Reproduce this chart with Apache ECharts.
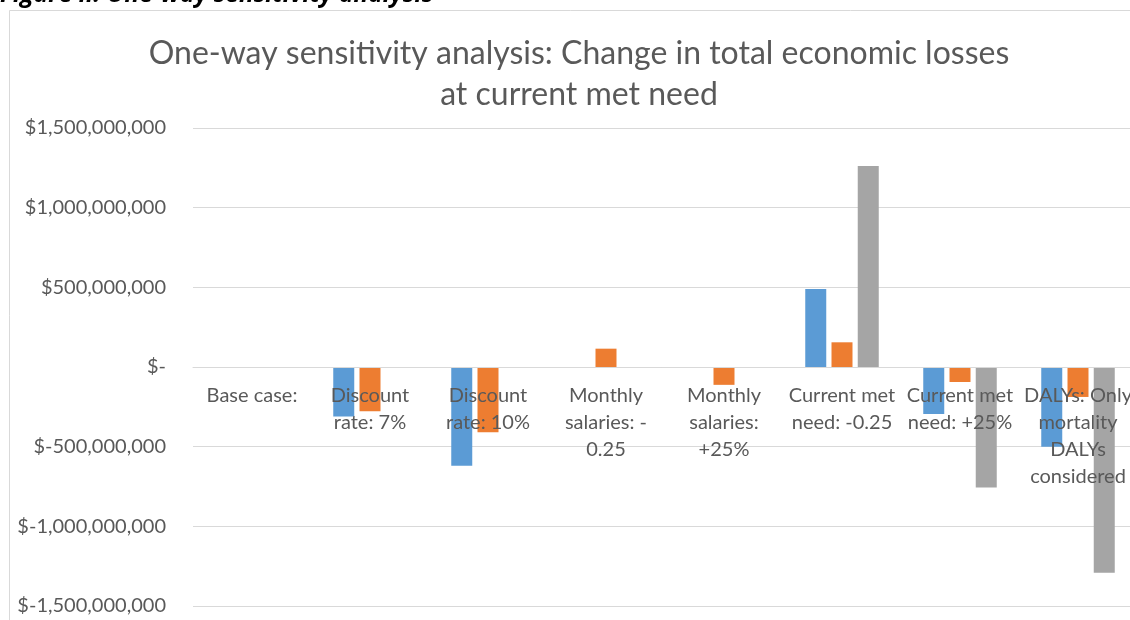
<!DOCTYPE html>
<html>
<head>
<meta charset="utf-8">
<script src="https://cdn.jsdelivr.net/npm/echarts@6/dist/echarts.min.js"></script>
<style>
  html, body { margin: 0; padding: 0; background: #ffffff; }
  #chart { width: 1130px; height: 620px; }
</style>
</head>
<body>
<div id="chart"></div>
<script>
// Scenario categories (line breaks as they wrap under the axis)
const categories = [
  'Base case:',
  'Discount\nrate: 7%',
  'Discount\nrate: 10%',
  'Monthly\nsalaries: -\n0.25',
  'Monthly\nsalaries:\n+25%',
  'Current met\nneed: -0.25',
  'Current met\nneed: +25%',
  'DALYs: Only\nmortality\nDALYs\nconsidered'
];

// Change in total economic losses (USD) per scenario
const series1 = [0, -310000000, -620000000, 0, 0, 490000000, -295000000, -500000000];
const series2 = [0, -278000000, -410000000, 115000000, -112000000, 155000000, -94000000, -188000000];
const series3 = [0, 0, 0, 0, 0, 1262000000, -757000000, -1292000000];

const yTicks = { min: -1500000000, max: 1500000000, interval: 500000000 };

const colors = ['#5b9bd5', '#ed7d31', '#a5a5a5'];
const textColor = '#595959';
const gridColor = '#d9d9d9';
const fontFamily = 'Lato, "Open Sans", sans-serif';

const plotTop = 128;
const plotHeight = 478;

function money(v) {
  if (v === 0) return '$-';
  const abs = Math.abs(v).toString().replace(/\B(?=(\d{3})+(?!\d))/g, ',');
  return v < 0 ? '$-' + abs : '$' + abs;
}

const chart = echarts.init(document.getElementById('chart'), null, { renderer: 'canvas' });

function bar(name, data, color) {
  return {
    name: name,
    type: 'bar',
    data: data,
    barWidth: 21,
    barGap: '25%',
    itemStyle: { color: color },
    z: 2
  };
}

chart.setOption({
  animation: false,
  backgroundColor: '#ffffff',
  textStyle: { fontFamily: fontFamily },
  title: {
    text: 'One-way sensitivity analysis: Change in total economic losses\nat current met need',
    left: 574,
    textAlign: 'center',
    top: 28,
    textStyle: {
      fontFamily: fontFamily,
      fontSize: 32,
      fontWeight: 'normal',
      color: textColor,
      lineHeight: 41
    }
  },
  grid: {
    left: 193, top: plotTop, width: 944, height: plotHeight,
    containLabel: false,
    outerBoundsMode: 'none'
  },
  xAxis: {
    type: 'category',
    data: categories,
    z: 5,
    // category axis sits on the zero line (middle of the symmetric value range)
    offset: -plotHeight / 2,
    axisLine: { onZero: false, lineStyle: { color: gridColor, width: 1 } },
    axisTick: { show: false },
    axisLabel: {
      interval: 0,
      margin: 15,
      color: textColor,
      fontSize: 20,
      lineHeight: 27,
      fontFamily: fontFamily,
      align: 'center',
      hideOverlap: false
    },
    splitLine: { show: false }
  },
  yAxis: {
    type: 'value',
    min: yTicks.min,
    max: yTicks.max,
    interval: yTicks.interval,
    axisLine: { show: false },
    axisTick: { show: false },
    axisLabel: {
      margin: 27,
      color: textColor,
      fontSize: 20,
      fontFamily: fontFamily,
      formatter: money
    },
    splitLine: { lineStyle: { color: gridColor, width: 1 } }
  },
  series: [
    bar('Series 1', series1, colors[0]),
    bar('Series 2', series2, colors[1]),
    bar('Series 3', series3, colors[2])
  ],
  graphic: [
    {
      type: 'rect',
      shape: { x: 9.5, y: 10.5, width: 1200, height: 700 },
      style: { fill: 'none', stroke: gridColor, lineWidth: 1 },
      silent: true,
      z: -1
    },
    {
      type: 'text',
      x: 0,
      y: 7.5,
      style: {
        text: 'Figure ii: One-way sensitivity analysis',
        font: 'italic bold 24.5px "Open Sans", sans-serif',
        fill: '#000000',
        verticalAlign: 'bottom'
      },
      silent: true
    }
  ]
});
</script>
</body>
</html>
